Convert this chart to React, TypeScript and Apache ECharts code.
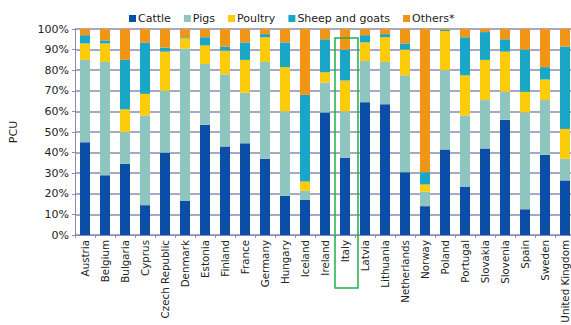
import React, { useEffect, useRef } from "react";
import * as echarts from "echarts";

const countries = [
  "Austria", "Belgium", "Bulgaria", "Cyprus", "Czech Republic", "Denmark", "Estonia",
  "Finland", "France", "Germany", "Hungary", "Iceland", "Ireland", "Italy", "Latvia",
  "Lithuania", "Netherlands", "Norway", "Poland", "Portugal", "Slovakia", "Slovenia",
  "Spain", "Sweden", "United Kingdom",
];

// Share of livestock units (PCU), % per country
const cattle = [45, 29, 34.5, 14.5, 40, 16.5, 53.5, 43, 44.5, 37, 19, 17, 59.5, 37.5, 64.5, 63.5, 30.5, 14, 41.5, 23.5, 42, 56, 12.5, 39, 26.5];
const pigs = [40, 55, 15.5, 43.5, 30, 74, 29.5, 35, 24.5, 47, 41, 4.5, 14.5, 22.5, 20, 20.5, 47, 7, 38.5, 34.5, 23.5, 13.5, 47, 26.5, 10.5];
const poultry = [8, 9, 11, 10.5, 19, 5, 9, 11.5, 16, 12, 21.5, 4.5, 5, 15, 9, 12, 12.5, 3.5, 19, 19.5, 19.5, 19.5, 10, 10, 14.5];
const sheepGoats = [4, 1.5, 24, 25, 2, 0.5, 4, 2, 8.5, 1.5, 12, 42, 16, 15, 3.5, 1.5, 3, 6, 0.5, 18.5, 13.5, 6, 20.5, 6, 40];
const others = [3, 5.5, 15, 6.5, 9, 4, 4, 8.5, 6.5, 2.5, 6.5, 32, 5, 10, 3, 2.5, 7, 69.5, 0.5, 4, 1.5, 5, 10, 18.5, 8.5];

const yTicks = [0, 10, 20, 30, 40, 50, 60, 70, 80, 90, 100];

const seriesDefs = [
  { name: "Cattle", data: cattle, color: "#0b4ea8" },
  { name: "Pigs", data: pigs, color: "#8ec5bf" },
  { name: "Poultry", data: poultry, color: "#fccc0a" },
  { name: "Sheep and goats", data: sheepGoats, color: "#1aa6c6" },
  { name: "Others*", data: others, color: "#f39514" },
];

const FONT = "DejaVu Sans";

export default function App() {
  const ref = useRef<HTMLDivElement>(null);

  useEffect(() => {
    const chart = echarts.init(ref.current!, null, { renderer: "svg" });
    chart.setOption({
      animation: false,
      backgroundColor: "#ffffff",
      legend: {
        left: 124,
        top: 8,
        itemWidth: 7,
        itemHeight: 7,
        itemGap: 13,
        icon: "rect",
        textStyle: { fontFamily: FONT, fontSize: 11, color: "#222", padding: [0, 0, 0, -3] },
        data: seriesDefs.map((s) => s.name),
      },
      grid: {
        left: 75,
        top: 29,
        width: 500,
        height: 206,
        containLabel: false,
        outerBoundsMode: "none",
      },
      xAxis: {
        type: "category",
        data: countries,
        axisLine: { lineStyle: { color: "#8a8ab4", width: 1 } },
        axisTick: { show: true, alignWithLabel: false, lineStyle: { color: "#8a8ab4" }, length: 3 },
        axisLabel: {
          rotate: 90,
          interval: 0,
          margin: 5,
          fontFamily: FONT,
          fontSize: 10.3,
          color: "#222",
        },
      },
      yAxis: {
        type: "value",
        min: 0,
        max: 100,
        interval: 10,
        name: "PCU",
        nameLocation: "middle",
        nameGap: 56,
        nameRotate: 90,
        nameTextStyle: { fontFamily: FONT, fontSize: 11, color: "#222" },
        axisLine: { show: true, lineStyle: { color: "#8a8ab4" } },
        axisTick: { show: true, length: 3, lineStyle: { color: "#8a8ab4" } },
        splitLine: { lineStyle: { color: "#8a8ab4", width: 1.5 } },
        axisLabel: {
          fontFamily: FONT,
          fontSize: 11,
          color: "#222",
          margin: 6,
          formatter: (v: number) => (yTicks.includes(v) ? `${v}%` : ""),
        },
      },
      series: seriesDefs.map((s) => ({
        name: s.name,
        type: "bar",
        stack: "total",
        barWidth: 10,
        data: s.data,
        itemStyle: { color: s.color },
      })),
      graphic: [
        {
          type: "rect",
          shape: { x: 335, y: 38, width: 23, height: 250 },
          style: { fill: "none", stroke: "#1db34a", lineWidth: 1.5 },
          z: 100,
        },
      ],
    });
    return () => chart.dispose();
  }, []);

  return (
    <div
      ref={ref}
      style={{ position: "fixed", left: 0, top: 0, width: 571, height: 325 }}
    />
  );
}
